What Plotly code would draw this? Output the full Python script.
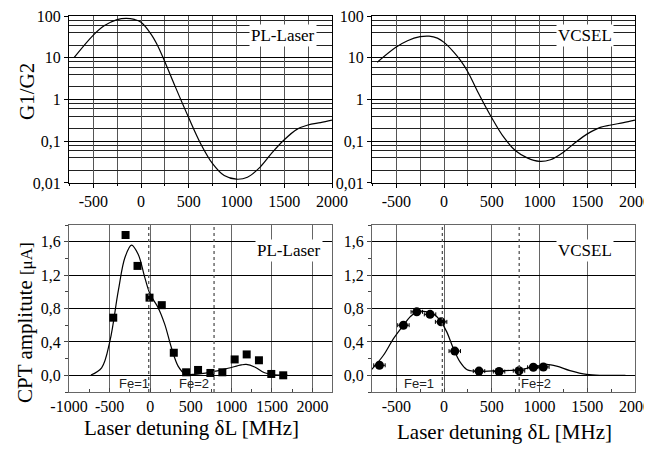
import plotly.graph_objects as go

# ---------------- data ----------------
# G1/G2 ratio (top panels)
g_x = [-700, -505, -383, -251, -157, -70, 0, 104, 174, 251, 348, 498, 627, 749, 871,
       999, 1114, 1247, 1375, 1497, 1636, 1748, 1880, 2000]
g_pl = [10.2, 34, 59, 82, 88, 83, 71, 37, 19.5, 7.8, 2.3, 0.37, 0.085, 0.029, 0.015,
        0.0123, 0.0137, 0.024, 0.054, 0.107, 0.195, 0.245, 0.28, 0.32]
g_vc = [7.8, 17.8, 25.6, 32, 33, 29.6, 23.4, 13.5, 8.5, 4.5, 1.6, 0.37, 0.123, 0.059, 0.04,
        0.033, 0.036, 0.054, 0.093, 0.148, 0.215, 0.245, 0.28, 0.32]

# CPT amplitude, PL-Laser (bottom left)
pl_pts_x = [-455, -303, -156, -8, 143, 291, 443, 590, 742, 889, 1041, 1189, 1340, 1492, 1639]
pl_pts_y = [0.69, 1.68, 1.31, 0.93, 0.84, 0.27, 0.036, 0.064, 0.028, 0.036, 0.19, 0.25, 0.18, 0.016, 0.0]
pl_fit_x = [-730, -598, -496, -393, -311, -230, -148, -66, 0, 98, 180, 262, 344, 426, 549,
            754, 959, 1123, 1184, 1287, 1410, 1533, 1697]
pl_fit_y = [0.004, 0.09, 0.41, 1.01, 1.41, 1.56, 1.45, 1.17, 0.97, 0.81, 0.61, 0.33, 0.11, 0.02, 0.012,
            0.04, 0.084, 0.124, 0.13, 0.10, 0.03, 0.004, 0.0]

# CPT amplitude, VCSEL (bottom right)
vc_pts_x = [-677, -426, -286, -147, -31, 112, 366, 576, 785, 935, 1040]
vc_pts_y = [0.12, 0.60, 0.76, 0.73, 0.64, 0.29, 0.05, 0.045, 0.055, 0.096, 0.10]
vc_err_x = [60, 60, 60, 60, 60, 60, 60, 60, 60, 60, 60]
vc_fit_x = [-757, -635, -530, -426, -356, -286, -181, -94, -31, 28, 98, 167, 237, 342, 516,
            795, 970, 1075, 1179, 1319, 1493, 1668, 1900]
vc_fit_y = [0.072, 0.24, 0.44, 0.60, 0.70, 0.76, 0.76, 0.72, 0.64, 0.52, 0.32, 0.16, 0.07, 0.048, 0.052,
            0.068, 0.11, 0.13, 0.11, 0.056, 0.01, 0.0, 0.0]

fe_lines = [-18, 787]
fe_labels_pl = [(-205, "Fe=1"), (540, "Fe=2")]
fe_labels_vc = [(-262, "Fe=1"), (960, "Fe=2")]

top_xticks = [-500, 0, 500, 1000, 1500, 2000]
bot_left_xticks = [-1000, -500, 0, 500, 1000, 1500, 2000]
bot_right_xticks = [-500, 0, 500, 1000, 1500, 2000]
amp_ticks = [0.0, 0.4, 0.8, 1.2, 1.6]
amp_ticktext = ["0,0", "0,4", "0,8", "1,2", "1,6"]
log_ticks = [0.01, 0.1, 1, 10, 100]
log_ticktext = ["0,01", "0,1", "1", "10", "100"]
log_minor = [m * 10 ** e for e in range(-2, 2) for m in (2, 4, 6, 8)]

SERIF = "Liberation Serif, Times New Roman, serif"
SANS = "Liberation Sans, Arial, sans-serif"

# page body has an 8px margin: figure is placed at (8, 8) of the window
OFF = 8
W, H = 652 - OFF, 449 - OFF


def px_x(v):
    return (v - OFF) / W


def px_y(v):
    return 1 - (v - OFF) / H


fig = go.Figure()

line = dict(color="black", width=1.2)
fig.add_trace(go.Scatter(x=g_x, y=g_pl, mode="lines", line_shape="spline", line=line,
                         xaxis="x", yaxis="y"))
fig.add_trace(go.Scatter(x=g_x, y=g_vc, mode="lines", line_shape="spline", line=line,
                         xaxis="x2", yaxis="y2"))
fig.add_trace(go.Scatter(x=pl_fit_x, y=pl_fit_y, mode="lines", line_shape="spline", line=line,
                         xaxis="x3", yaxis="y3"))
fig.add_trace(go.Scatter(x=pl_pts_x, y=pl_pts_y, mode="markers",
                         marker=dict(symbol="square", size=8, color="black"),
                         xaxis="x3", yaxis="y3"))
fig.add_trace(go.Scatter(x=vc_fit_x, y=vc_fit_y, mode="lines", line_shape="spline", line=line,
                         xaxis="x4", yaxis="y4"))
fig.add_trace(go.Scatter(x=vc_pts_x, y=vc_pts_y, mode="markers",
                         marker=dict(symbol="circle", size=9, color="black"),
                         error_x=dict(type="data", array=vc_err_x, color="black", thickness=1, width=2),
                         xaxis="x4", yaxis="y4"))

xL = [px_x(69), px_x(332)]
xR = [px_x(372), px_x(635)]
yT = [px_y(183), px_y(16)]
yB = [px_y(392), px_y(225)]


def tf():
    return dict(family=SERIF, size=16, color="black")


def lbl(v):
    return [str(t) for t in v]


common = dict(automargin=False, ticklabeloverflow="allow", zeroline=False)


def top_x(dom, anchor):
    return dict(domain=dom, anchor=anchor, range=[-755, 2000],
                tickmode="array", tickvals=top_xticks, ticktext=lbl(top_xticks),
                showgrid=True, gridcolor="#555", gridwidth=1.3,
                minor=dict(dtick=250, tick0=0, showgrid=True, gridcolor="#555", gridwidth=1.3,
                           ticks="outside", ticklen=2, tickcolor="black"),
                ticks="outside", ticklen=4, tickcolor="black",
                showline=True, linecolor="black", linewidth=1, mirror=True,
                tickfont=tf(), **common)


def top_y(dom, anchor):
    return dict(domain=dom, anchor=anchor, type="log", range=[-2.001, 2.001],
                tickmode="array", tickvals=log_ticks, ticktext=log_ticktext,
                showgrid=True, gridcolor="black", gridwidth=1,
                minor=dict(tickmode="array", tickvals=log_minor, showgrid=True,
                           gridcolor="#222", gridwidth=1),
                ticks="outside", ticklen=4, tickcolor="black",
                showline=True, linecolor="black", linewidth=1, mirror=True,
                tickfont=tf(), **common)


def bot_x(dom, anchor, rng, ticks):
    return dict(domain=dom, anchor=anchor, range=rng,
                tickmode="array", tickvals=ticks, ticktext=lbl(ticks),
                showgrid=True, gridcolor="#666", gridwidth=1.3,
                minor=dict(dtick=250, tick0=0, ticks="inside", ticklen=3, tickcolor="#444",
                           showgrid=False),
                ticks="inside", ticklen=4, tickcolor="#444",
                showline=True, linecolor="#666", linewidth=1.3, mirror=True,
                tickfont=tf(), **common)


def bot_y(dom, anchor):
    return dict(domain=dom, anchor=anchor, range=[-0.2, 1.8],
                tickmode="array", tickvals=amp_ticks, ticktext=amp_ticktext,
                showgrid=True, gridcolor="black", gridwidth=1,
                minor=dict(dtick=0.2, tick0=0, ticks="outside", ticklen=3, tickcolor="#444",
                           showgrid=False),
                ticks="outside", ticklen=4, tickcolor="#444",
                showline=True, linecolor="#666", linewidth=1.3, mirror=True,
                tickfont=tf(), **common)


annotations = []


def box_label(text, x, y, xref, yref):
    annotations.append(dict(text=text, x=x, y=y, xref=xref, yref=yref, showarrow=False,
                            xanchor="center", yanchor="middle",
                            bgcolor="white", borderpad=1,
                            font=dict(family=SERIF, size=17, color="black")))


box_label("PL-Laser", 1490, 1.545, "x", "y")
box_label("VCSEL", 1475, 1.545, "x2", "y2")
box_label("PL-Laser", 1715, 1.5, "x3", "y3")
box_label("VCSEL", 1475, 1.5, "x4", "y4")

for xv, t in fe_labels_pl:
    annotations.append(dict(text=t, x=xv, y=-0.1, xref="x3", yref="y3", showarrow=False,
                            xanchor="center", yanchor="middle",
                            font=dict(family=SANS, size=13, color="#222")))
for xv, t in fe_labels_vc:
    annotations.append(dict(text=t, x=xv, y=-0.1, xref="x4", yref="y4", showarrow=False,
                            xanchor="center", yanchor="middle",
                            font=dict(family=SANS, size=13, color="#222")))


def title(text, x, y, angle=0):
    annotations.append(dict(text=text, x=px_x(x), y=px_y(y), xref="paper", yref="paper",
                            xanchor="center", yanchor="middle", textangle=angle,
                            showarrow=False, font=dict(family=SERIF, size=21, color="black")))


title("G1/G2", 27, 92, -90)
title("CPT amplitute <span style='font-size:17px'>[μA]</span>", 25, 323, -90)
title("Laser detuning δL [MHz]", 191, 428)
title("Laser detuning δL [MHz]", 504, 432)

shapes = []
for ax in ("x3", "x4"):
    ya = "y3" if ax == "x3" else "y4"
    for xv in fe_lines:
        shapes.append(dict(type="line", xref=ax, yref=ya + " domain", x0=xv, x1=xv, y0=0, y1=1,
                           line=dict(color="#555", width=1.3, dash="dot")))

fig.update_layout(
    width=W, height=H,
    margin=dict(l=0, r=0, t=0, b=0, autoexpand=False),
    paper_bgcolor="white", plot_bgcolor="white",
    font=dict(family=SERIF, size=16, color="black"),
    showlegend=False,
    xaxis=top_x(xL, "y"), yaxis=top_y(yT, "x"),
    xaxis2=top_x(xR, "y2"), yaxis2=top_y(yT, "x2"),
    xaxis3=bot_x(xL, "y3", [-1000, 2240], bot_left_xticks), yaxis3=bot_y(yB, "x3"),
    xaxis4=bot_x(xR, "y4", [-755, 2000], bot_right_xticks), yaxis4=bot_y(yB, "x4"),
    annotations=annotations, shapes=shapes,
)

fig.write_html("out.html")
